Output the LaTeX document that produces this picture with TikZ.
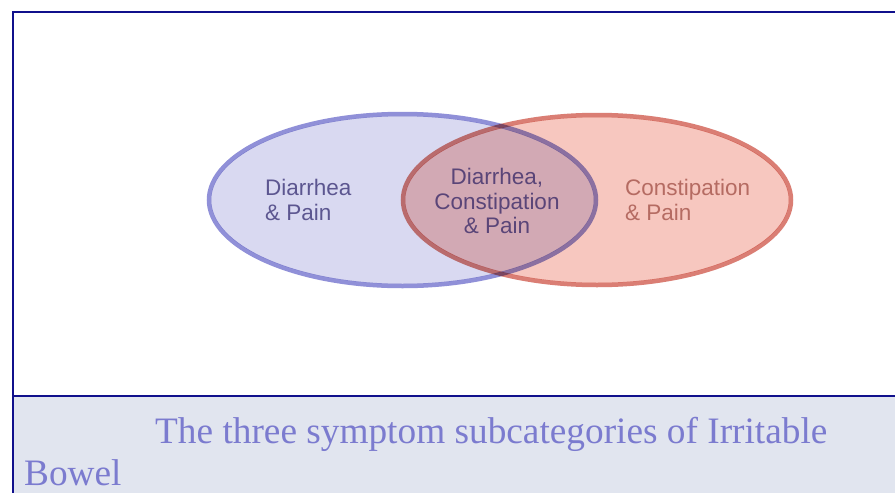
\documentclass[tikz,border=0pt]{standalone}
\usepackage{fontspec}
\setmainfont{Liberation Serif}
\newfontfamily\vennfont{Liberation Sans}
\definecolor{navy}{HTML}{10108C}
\definecolor{capbg}{HTML}{E1E5EF}
\definecolor{captext}{HTML}{7B7BCF}
\definecolor{bluefill}{HTML}{D9D9F1}
\definecolor{blueline}{HTML}{9090D8}
\definecolor{redfill}{HTML}{F7C7BF}
\definecolor{redline}{HTML}{DA7E74}
\definecolor{purpletext}{HTML}{5C5690}
\definecolor{midtext}{HTML}{5A4578}
\definecolor{redtext}{HTML}{B56B62}
\begin{document}
\begin{tikzpicture}[x=1pt,y=-1pt,
  venn/.style={line width=4.5pt},
  vlabel/.style={font=\vennfont\fontsize{22.5}{24.5}\selectfont, inner sep=0pt},
  border/.style={draw=navy, line width=2.2pt}]
\useasboundingbox (0,0) rectangle (895,493);
\fill[white] (0,0) rectangle (895,493);
% caption band
\fill[capbg] (13,396) rectangle (895,493);
% Venn diagram
\begin{scope}[blend group=multiply]
  \fill[bluefill] (402.5,200) ellipse [x radius=191.5, y radius=84];
  \fill[redfill] (597,200) ellipse [x radius=192, y radius=83];
  \draw[venn, draw=blueline] (402.5,200) ellipse [x radius=193.5, y radius=86];
  \draw[venn, draw=redline] (597,200) ellipse [x radius=194, y radius=85];
\end{scope}
\node[vlabel, text=purpletext, align=left, anchor=west] (left) at (265,200) {Diarrhea\\\& Pain};
\node[vlabel, text=midtext, align=center] (mid) at (497,201) {Diarrhea,\\Constipation\\\& Pain};
\node[vlabel, text=redtext, align=left, anchor=west] (right) at (625,200) {Constipation\\\& Pain};
% frame
\draw[border] (13,493) -- (13,12) -- (895,12);
\draw[border] (13,396) -- (895,396);
% caption
\node[anchor=base west, inner sep=0pt, text=captext, font=\fontsize{37.3}{42}\selectfont] (cap1) at (155,443) {The three symptom subcategories of Irritable};
\node[anchor=base west, inner sep=0pt, text=captext, font=\fontsize{37.3}{42}\selectfont] (cap2) at (24,485) {Bowel};
\end{tikzpicture}
\end{document}
